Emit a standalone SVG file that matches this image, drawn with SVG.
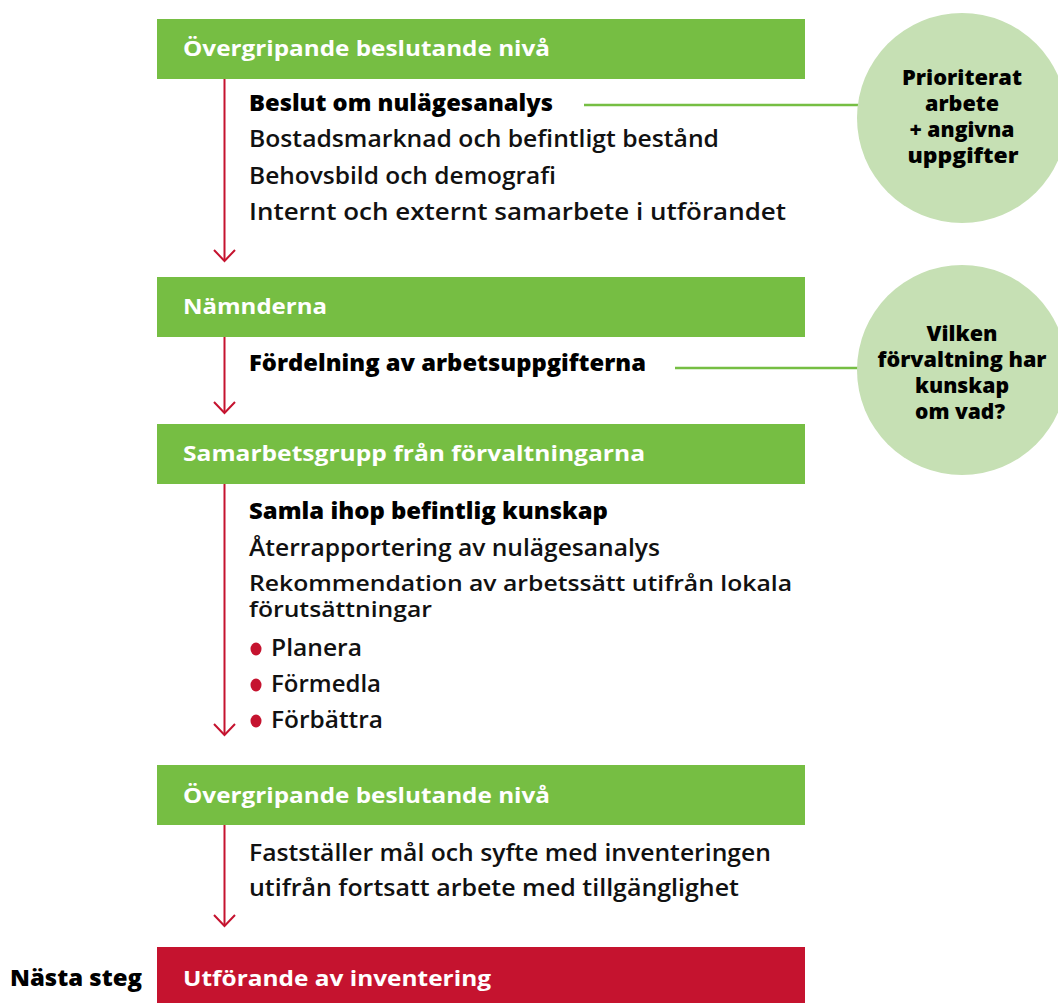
<svg xmlns="http://www.w3.org/2000/svg" width="1058" height="1003" viewBox="0 0 1058 1003">
<style>
.box{fill:#76be43}
.next{fill:#c5132f}
.circ{fill:#c6e0b4}
.title{font-family:"Open Sans","Liberation Sans",sans-serif;font-weight:700;font-size:21px;fill:#ffffff}
.body{font-family:"Open Sans","Liberation Sans",sans-serif;font-weight:600;font-size:22.5px;fill:#111111}
.wrap{font-size:21px}
.bold{font-family:"Open Sans","Liberation Sans",sans-serif;font-weight:800;font-size:22.5px;fill:#000000}
.ctext{font-family:"Open Sans","Liberation Sans",sans-serif;font-weight:800;font-size:21px;fill:#000000;text-anchor:middle}
.flow{stroke:#c5132f;stroke-width:2;fill:none}
.link{stroke:#76be43;stroke-width:2.5;fill:none}
.dot{fill:#c5132f}
</style>
<rect width="1058" height="1003" fill="#ffffff"/>

<g id="connectors">
<line class="flow" x1="224.5" y1="79" x2="224.5" y2="260"/>
<path class="flow" d="M214,250 L224.5,261 L235,250"/>
<line class="flow" x1="224.5" y1="337" x2="224.5" y2="412"/>
<path class="flow" d="M214,402 L224.5,413 L235,402"/>
<line class="flow" x1="224.5" y1="484" x2="224.5" y2="734"/>
<path class="flow" d="M214,724 L224.5,735 L235,724"/>
<line class="flow" x1="224.5" y1="825" x2="224.5" y2="925"/>
<path class="flow" d="M214,915 L224.5,926 L235,915"/>
<line class="link" x1="584" y1="105" x2="858" y2="105"/>
<line class="link" x1="675" y1="368" x2="858" y2="368"/>
</g>

<g id="node-overgripande-1">
<rect class="box" x="157" y="19" width="648" height="60"/>
<text class="title" x="183" y="56" textLength="367" lengthAdjust="spacingAndGlyphs">Övergripande beslutande nivå</text>
</g>

<g id="text-1">
<text class="bold" x="249" y="111" textLength="304" lengthAdjust="spacingAndGlyphs">Beslut om nulägesanalys</text>
<text class="body" x="249" y="147" textLength="470" lengthAdjust="spacingAndGlyphs">Bostadsmarknad och befintligt bestånd</text>
<text class="body" x="249" y="184" textLength="307" lengthAdjust="spacingAndGlyphs">Behovsbild och demografi</text>
<text class="body" x="249" y="220" textLength="537" lengthAdjust="spacingAndGlyphs">Internt och externt samarbete i utförandet</text>
</g>

<g id="circle-1">
<circle class="circ" cx="962" cy="118" r="105"/>
<text class="ctext" x="962" y="85" textLength="120" lengthAdjust="spacingAndGlyphs">Prioriterat</text>
<text class="ctext" x="962" y="111" textLength="74" lengthAdjust="spacingAndGlyphs">arbete</text>
<text class="ctext" x="962" y="137" textLength="105" lengthAdjust="spacingAndGlyphs">+ angivna</text>
<text class="ctext" x="963" y="163" textLength="111" lengthAdjust="spacingAndGlyphs">uppgifter</text>
</g>

<g id="node-namnderna">
<rect class="box" x="157" y="277" width="648" height="60"/>
<text class="title" x="183" y="314" textLength="144" lengthAdjust="spacingAndGlyphs">Nämnderna</text>
</g>

<g id="text-2">
<text class="bold" x="249" y="371" textLength="397" lengthAdjust="spacingAndGlyphs">Fördelning av arbetsuppgifterna</text>
</g>

<g id="circle-2">
<circle class="circ" cx="962" cy="370" r="105"/>
<text class="ctext" x="962" y="341" textLength="71" lengthAdjust="spacingAndGlyphs">Vilken</text>
<text class="ctext" x="962" y="367" textLength="169" lengthAdjust="spacingAndGlyphs">förvaltning har</text>
<text class="ctext" x="962" y="393" textLength="94" lengthAdjust="spacingAndGlyphs">kunskap</text>
<text class="ctext" x="960" y="419" textLength="90" lengthAdjust="spacingAndGlyphs">om vad?</text>
</g>

<g id="node-samarbetsgrupp">
<rect class="box" x="157" y="424" width="648" height="60"/>
<text class="title" x="183" y="461" textLength="462" lengthAdjust="spacingAndGlyphs">Samarbetsgrupp från förvaltningarna</text>
</g>

<g id="text-3">
<text class="bold" x="249" y="519" textLength="359" lengthAdjust="spacingAndGlyphs">Samla ihop befintlig kunskap</text>
<text class="body" x="249" y="556" textLength="411" lengthAdjust="spacingAndGlyphs">Återrapportering av nulägesanalys</text>
<text class="body wrap" x="249" y="591" textLength="543" lengthAdjust="spacingAndGlyphs">Rekommendation av arbetssätt utifrån lokala</text>
<text class="body wrap" x="249" y="617" textLength="183" lengthAdjust="spacingAndGlyphs">förutsättningar</text>
<ellipse class="dot" cx="256" cy="649" rx="5.5" ry="6.5"/>
<text class="body" x="271" y="656" textLength="91" lengthAdjust="spacingAndGlyphs">Planera</text>
<ellipse class="dot" cx="256" cy="685" rx="5.5" ry="6.5"/>
<text class="body" x="271" y="692" textLength="110" lengthAdjust="spacingAndGlyphs">Förmedla</text>
<ellipse class="dot" cx="256" cy="721" rx="5.5" ry="6.5"/>
<text class="body" x="271" y="728" textLength="112" lengthAdjust="spacingAndGlyphs">Förbättra</text>
</g>

<g id="node-overgripande-2">
<rect class="box" x="157" y="765" width="648" height="60"/>
<text class="title" x="183" y="803" textLength="367" lengthAdjust="spacingAndGlyphs">Övergripande beslutande nivå</text>
</g>

<g id="text-4">
<text class="body" x="249" y="861" textLength="522" lengthAdjust="spacingAndGlyphs">Fastställer mål och syfte med inventeringen</text>
<text class="body" x="249" y="896" textLength="490" lengthAdjust="spacingAndGlyphs">utifrån fortsatt arbete med tillgänglighet</text>
</g>

<g id="node-utforande">
<rect class="next" x="157" y="947" width="648" height="56"/>
<text class="title" x="183" y="986" textLength="308" lengthAdjust="spacingAndGlyphs">Utförande av inventering</text>
</g>

<g id="label-nasta-steg">
<text class="bold" x="10" y="986" textLength="132" lengthAdjust="spacingAndGlyphs">Nästa steg</text>
</g>
</svg>
